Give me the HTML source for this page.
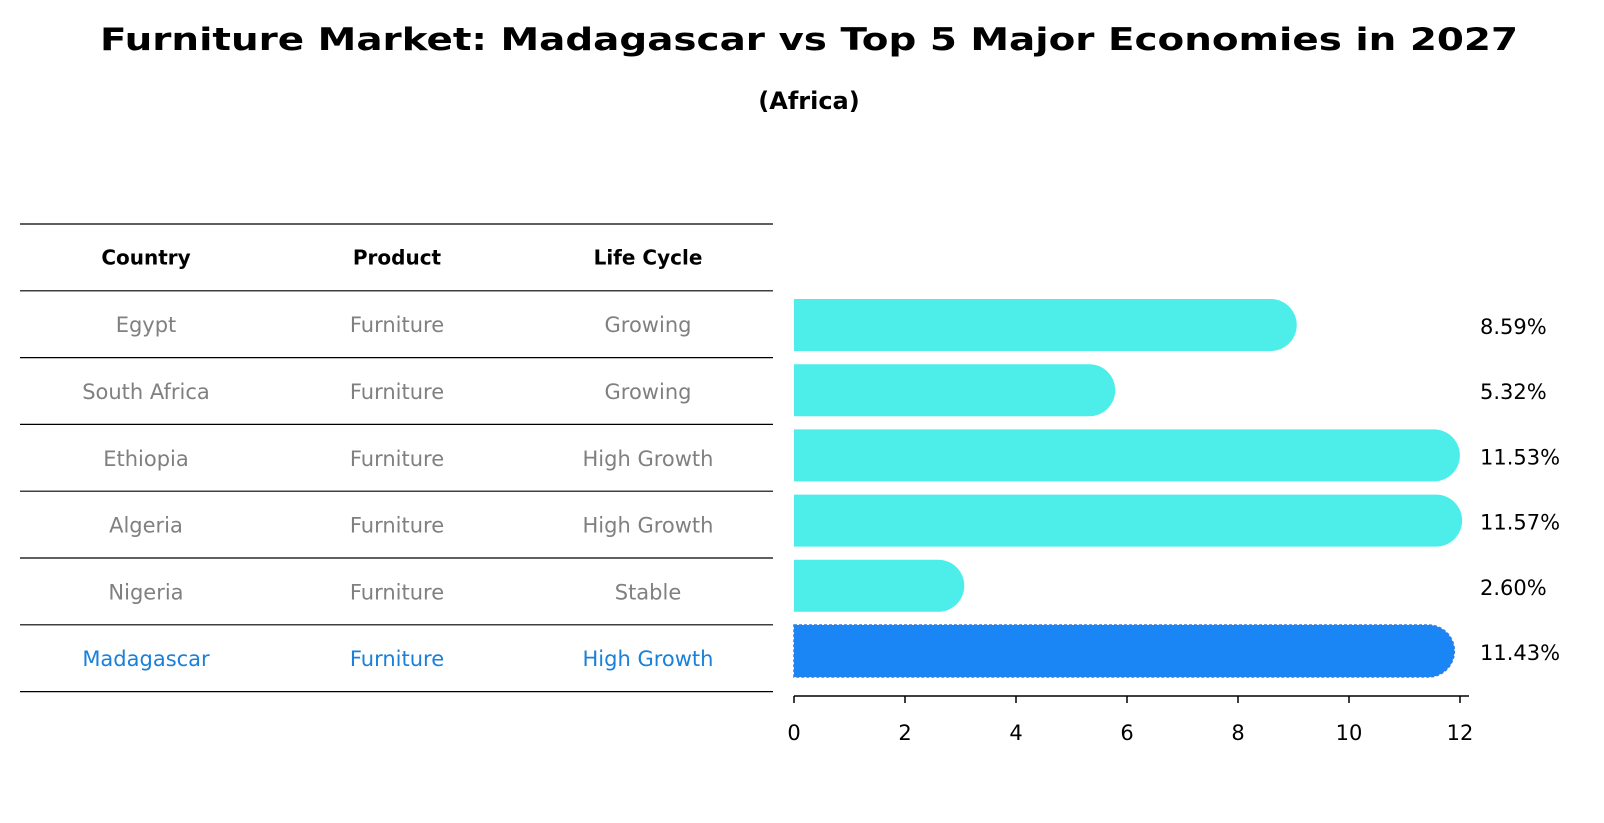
<!DOCTYPE html>
<html><head><meta charset="utf-8"><style>body{margin:0;background:#fff}svg{display:block;font-family:"DejaVu Sans","Liberation Sans",sans-serif}</style></head>
<body>
<svg width="1604" height="823" viewBox="0 0 1604 823" id="c">
<text x="809" y="50" text-anchor="middle" font-size="31" font-weight="bold" textLength="1418" lengthAdjust="spacingAndGlyphs">Furniture Market: Madagascar vs Top 5 Major Economies in 2027</text>
<text x="809" y="109" text-anchor="middle" font-size="24" font-weight="bold">(Africa)</text>
<g id="table"></g>
<g id="bars"></g>
<g id="axis"></g>
</svg>
<script>
const countries=["Egypt","South Africa","Ethiopia","Algeria","Nigeria","Madagascar"];
const products=["Furniture","Furniture","Furniture","Furniture","Furniture","Furniture"];
const lifeCycles=["Growing","Growing","High Growth","High Growth","Stable","High Growth"];
const values=[8.59,5.32,11.53,11.57,2.60,11.43];
const labels=["8.59%","5.32%","11.53%","11.57%","2.60%","11.43%"];
const ticks=[0,2,4,6,8,10,12];
const NS="http://www.w3.org/2000/svg";
const x0=794,ppu=55.5,rowTop=224,rowH=66.8,barH=52,barY0=325,barStep=65.2,cap=26;
const X=v=>x0+v*ppu;
function mk(tag,attrs,parent,txt){const e=document.createElementNS(NS,tag);for(const k in attrs)e.setAttribute(k,attrs[k]);if(txt!==undefined)e.textContent=txt;parent.appendChild(e);return e;}
const T=document.getElementById('table'),B=document.getElementById('bars'),A=document.getElementById('axis');
const colX=[146,397,648];
for(let i=0;i<=7;i++){const l=mk('line',{x1:20,x2:773,y1:rowTop+i*rowH,y2:rowTop+i*rowH,stroke:'#000','stroke-width':1.2},T);

}
["Country","Product","Life Cycle"].forEach((h,j)=>{const t=mk('text',{x:colX[j],y:rowTop+rowH/2+7,'text-anchor':'middle','font-size':20,'font-weight':'bold'},T,h);

});
countries.forEach((c,i)=>{const col=i===countries.length-1?'#1a80d9':'#808080';
[c,products[i],lifeCycles[i]].forEach((v,j)=>{const t=mk('text',{x:colX[j],y:rowTop+(i+1.5)*rowH+8,'text-anchor':'middle','font-size':21,fill:col},T,v);

});});
values.forEach((v,i)=>{const cy=barY0+i*barStep,top=cy-barH/2,e=X(v),hl=i===values.length-1;
const p=mk('path',{d:`M${x0},${top}H${e}A${cap},${cap} 0 0 1 ${e},${top+barH}H${x0}Z`,fill:hl?'#1a85f5':'#4deeea',stroke:hl?'#2f7fe0':'none','stroke-dasharray':'3,2','stroke-width':1.5},B);


const t=mk('text',{x:1480,y:cy+9,'font-size':21},B,labels[i]);

});
const al=mk('line',{x1:x0,x2:1469,y1:696,y2:696,stroke:'#000','stroke-width':1.5},A);


ticks.forEach(t=>{const tl=mk('line',{x1:X(t),x2:X(t),y1:696,y2:703,stroke:'#000','stroke-width':1.5},A);


const tx=mk('text',{x:X(t),y:740,'text-anchor':'middle','font-size':21},A,String(t));

});
</script>
</body></html>
